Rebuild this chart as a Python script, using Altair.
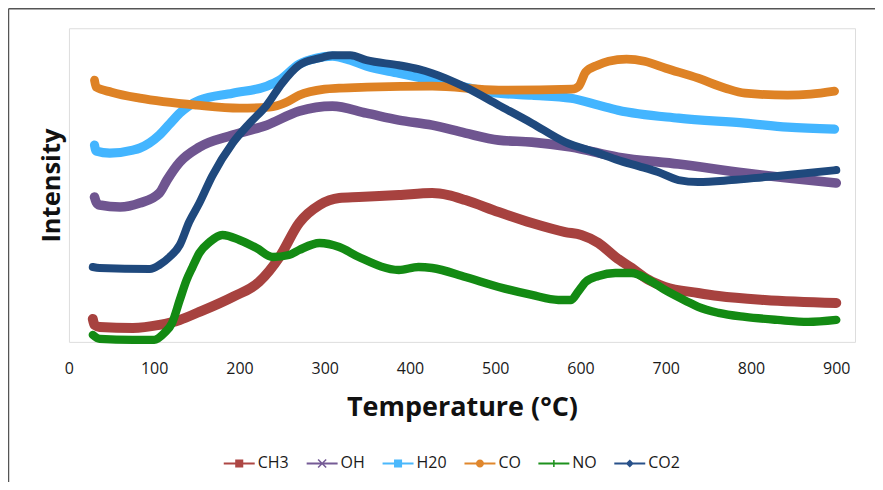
import altair as alt
import pandas as pd

series = ["CH3", "OH", "H20", "CO", "NO", "CO2"]
line_colors = ["#A7423F", "#6F5590", "#43B5FF", "#DE8225", "#138A13", "#1F497D"]
legend_colors = ["#AD4744", "#755B96", "#4AB8FC", "#E0872D", "#1D911D", "#28518A"]
line_widths = [10, 8, 9, 10, 6, 8]
x_ticks = [0, 100, 200, 300, 400, 500, 600, 700, 800, 900]

ch3_t = [28, 30, 36, 75, 106, 130, 153, 192, 223, 247, 270, 294, 317, 340, 387, 426, 445, 465, 504, 543, 582, 601, 621, 641, 660, 680, 699, 738, 762, 816, 900]
ch3_v = [23, 17, 15, 14, 17, 22, 30, 45, 60, 85, 119, 137, 144, 145, 147, 149, 147, 142, 130, 119, 110, 107, 99, 85, 74, 62, 55, 49, 46, 42, 39]

oh_t = [30, 32, 36, 60, 83, 106, 115, 130, 153, 192, 232, 270, 309, 349, 387, 426, 465, 504, 543, 589, 644, 715, 793, 843, 900]
oh_v = [145, 140, 137, 135, 139, 149, 162, 180, 195, 207, 217, 231, 236, 229, 222, 217, 209, 202, 200, 195, 185, 178, 169, 164, 159]

h2o_t = [30, 32, 48, 75, 83, 106, 118, 130, 153, 192, 232, 247, 270, 290, 309, 330, 349, 387, 426, 465, 504, 543, 589, 621, 644, 715, 793, 843, 898]
h2o_v = [197, 191, 189, 192, 194, 207, 218, 229, 242, 249, 256, 262, 278, 284, 286, 282, 276, 269, 262, 255, 249, 247, 244, 237, 232, 224, 219, 215, 213]

co_t = [30, 32, 50, 83, 150, 200, 235, 255, 270, 300, 317, 350, 426, 504, 590, 598, 606, 620, 633, 654, 675, 700, 738, 770, 793, 843, 870, 898]
co_v = [262, 255, 250, 244, 237, 234, 235, 240, 247, 253, 254, 255, 256, 252, 253, 256, 270, 277, 281, 283, 281, 274, 264, 254, 249, 247, 248, 251]

no_t = [28, 36, 75, 100, 112, 121, 130, 138, 145, 153, 165, 180, 200, 220, 239, 258, 270, 294, 317, 340, 387, 410, 426, 465, 504, 543, 574, 589, 597, 606, 621, 641, 660, 680, 699, 726, 738, 762, 793, 831, 867, 900]
no_v = [7, 3, 2, 2, 9, 19, 42, 62, 75, 89, 100, 107, 102, 94, 85, 87, 92, 99, 95, 85, 72, 75, 74, 65, 55, 47, 42, 42, 50, 60, 66, 69, 69, 62, 52, 40, 35, 29, 25, 22, 20, 22]

co2_t = [28, 36, 95, 106, 118, 130, 141, 153, 168, 192, 212, 232, 250, 270, 294, 309, 330, 349, 387, 410, 426, 465, 504, 543, 582, 621, 644, 668, 691, 715, 738, 777, 816, 855, 900]
co2_v = [75, 74, 73, 77, 85, 97, 120, 139, 166, 199, 219, 237, 259, 277, 284, 287, 287, 282, 277, 273, 269, 255, 237, 219, 200, 189, 182, 176, 170, 162, 160, 162, 165, 168, 172]

# legend uses its own (zero-width-suffixed) keys so it is not merged with the hidden line colour legend
ZW = "\u200b"
series_leg = [s + ZW for s in series]

rows = []
for name, ts, vs in [("CH3", ch3_t, ch3_v), ("OH", oh_t, oh_v), ("H20", h2o_t, h2o_v),
                     ("CO", co_t, co_v), ("NO", no_t, no_v), ("CO2", co2_t, co2_v)]:
    for t, v in zip(ts, vs):
        rows.append({"series": name, "series_leg": name + ZW, "T": t, "I": v})
df = pd.DataFrame(rows)

# legend glyphs: thin line segment plus the series marker (all same winding, filled)
seg = "M-1,-0.065H1V0.065H-1Z "
marker_shapes = [
    seg + "M-0.26,-0.26H0.26V0.26H-0.26Z",
    seg + "M-0.295,-0.225L-0.225,-0.295L0.295,0.225L0.225,0.295Z M-0.225,0.295L-0.295,0.225L0.225,-0.295L0.295,-0.225Z",
    seg + "M-0.26,-0.26H0.26V0.26H-0.26Z",
    seg + "M-0.26,0A0.26,0.26 0 1,1 0.26,0A0.26,0.26 0 1,1 -0.26,0Z",
    seg + "M-0.05,-0.22H0.05V0.22H-0.05Z M-0.22,-0.05H0.22V0.05H-0.22Z",
    seg + "M0,-0.26L0.26,0L0,0.26L-0.26,0Z",
]

FONT = "Open Sans"
LEG_X = 155
LEG_Y = 420

x_scale = alt.Scale(domain=[0, 922], nice=False, zero=False)
y_scale = alt.Scale(domain=[0, 314], nice=False, zero=False)

lines = alt.Chart(df).mark_line(interpolate="monotone", strokeCap="round", strokeJoin="round").encode(
    x=alt.X("T:Q", scale=x_scale,
            axis=alt.Axis(values=x_ticks, ticks=False, domain=False, grid=False, labelFlush=False,
                          labelFontSize=16, labelPadding=19, labelFont=FONT, labelColor="#1a1a1a",
                          title="Temperature (°C)", titleFont=FONT, titleFontSize=27,
                          titleFontWeight="bold", titlePadding=18, titleColor="#111111")),
    y=alt.Y("I:Q", scale=y_scale,
            axis=alt.Axis(labels=False, ticks=False, domain=False, grid=False,
                          title="Intensity", titleFont=FONT, titleFontSize=25.5,
                          titleFontWeight="bold", titlePadding=4, titleColor="#111111")),
    color=alt.Color("series:N", scale=alt.Scale(domain=series, range=line_colors), legend=None),
    strokeWidth=alt.StrokeWidth("series:N", scale=alt.Scale(domain=series, range=line_widths), legend=None),
)

leg_kw = dict(title=None, orient="none", legendX=LEG_X, legendY=LEG_Y, direction="horizontal",
              symbolSize=961, symbolStrokeWidth=0, labelFont=FONT, labelFontSize=16,
              labelColor="#1a1a1a", labelOffset=3, columnPadding=17)

leg = alt.Chart(df).transform_filter("false").mark_point(filled=True, opacity=1).encode(
    fill=alt.Fill("series_leg:N", scale=alt.Scale(domain=series_leg, range=legend_colors),
                  legend=alt.Legend(**leg_kw)),
    shape=alt.Shape("series_leg:N", scale=alt.Scale(domain=series_leg, range=marker_shapes),
                    legend=alt.Legend(**leg_kw)),
)

frame_data = alt.Data(values=[{"k": 1}])
frame_left = alt.Chart(frame_data).mark_rule(color="#555555", strokeWidth=1.5).encode(
    x=alt.value(-60.5), y=alt.value(-19.5), y2=alt.value(480))
frame_top = alt.Chart(frame_data).mark_rule(color="#555555", strokeWidth=1.5).encode(
    x=alt.value(-60.5), x2=alt.value(820), y=alt.value(-19.5))

chart = alt.layer(frame_left, frame_top, lines, leg).properties(
    width=787, height=314,
    autosize=alt.AutoSizeParams(type="none"),
    padding={"left": 61, "top": 20, "right": 20, "bottom": 140},
).configure_view(stroke="#8a8a8a", strokeWidth=1.5).configure(background="white")

chart.save("out.html", embed_options={"renderer": "svg", "actions": False})
